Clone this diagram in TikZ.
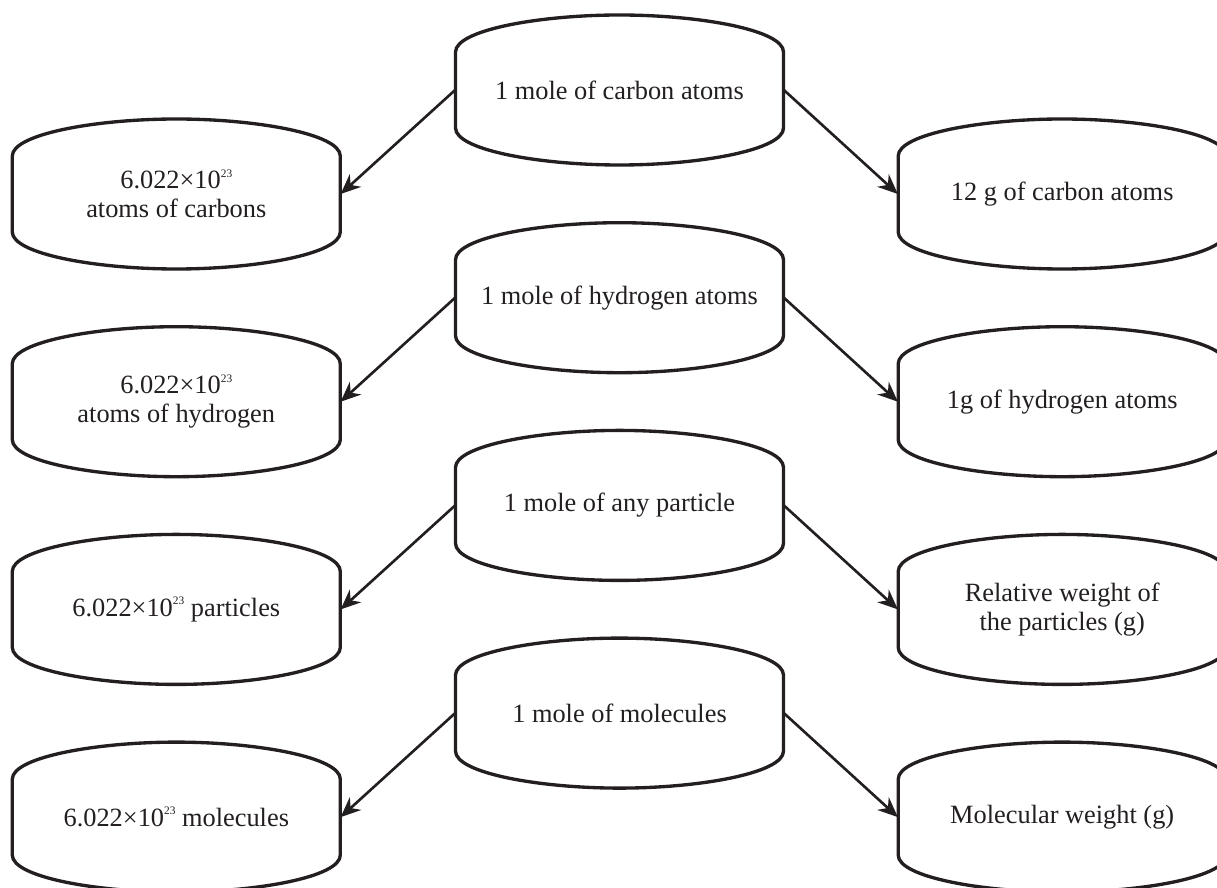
\documentclass[tikz,border=0pt]{standalone}
\usepackage{fontspec}
\setmainfont{Liberation Serif}
\usetikzlibrary{arrows.meta,positioning}
\usepackage{xcolor}
\definecolor{inkdark}{RGB}{35,31,32}

\newcommand{\avogadro}{6.022×10\raisebox{0.95ex}{\fontsize{6.5}{6.5}\selectfont 23}}

\begin{document}
\begin{tikzpicture}[node distance=1.14cm]
\tikzstyle{blob} = [minimum width=6.56cm, minimum height=3cm, align=center, text=inkdark, font=\fontsize{15}{16.5}\selectfont];
\tikzstyle{outline} = [draw=inkdark, line width=1.9pt];
\tikzstyle{link} = [draw=inkdark, line width=1.5pt, -{Stealth[length=0.4cm, width=0.34cm]}];

\useasboundingbox (0,0) rectangle (24.34,-17.76);
\clip (0,0) rectangle (24.34,-17.76);

% middle column
\node (carbon) [blob] at (12.39,-1.80) {1 mole of carbon atoms};
\node (hydrogen) [blob, below=of carbon] {1 mole of hydrogen atoms};
\node (particle) [blob, below=of hydrogen] {1 mole of any particle};
\node (molecule) [blob, below=of particle] {1 mole of molecules};

% number of particles
\node (ncarbon) [blob, left=2.29cm of carbon, yshift=-2.08cm] {\avogadro\\atoms of carbons};
\node (nhydrogen) [blob, left=2.29cm of hydrogen, yshift=-2.08cm] {\avogadro\\atoms of hydrogen};
\node (nparticle) [blob, left=2.29cm of particle, yshift=-2.08cm] {\avogadro{} particles};
\node (nmolecule) [blob, left=2.29cm of molecule, yshift=-2.08cm] {\avogadro{} molecules};

% mass
\node (gcarbon) [blob, right=2.28cm of carbon, yshift=-2.08cm] {12 g of carbon atoms};
\node (ghydrogen) [blob, right=2.28cm of hydrogen, yshift=-2.08cm] {1g of hydrogen atoms};
\node (gparticle) [blob, right=2.28cm of particle, yshift=-2.08cm] {Relative weight of\\the particles (g)};
\node (gmolecule) [blob, right=2.28cm of molecule, yshift=-2.08cm] {Molecular weight (g)};

% outlines
\foreach \n in {carbon,hydrogen,particle,molecule,ncarbon,nhydrogen,nparticle,nmolecule,gcarbon,ghydrogen,gparticle,gmolecule}
  \draw[outline, shift={(\n.center)}] (-3.28,0.76) -- (-3.28,-0.76)
    .. controls (-3.28,-1.2) and (-1.6,-1.5) .. (0,-1.5)
    .. controls (1.6,-1.5) and (3.28,-1.2) .. (3.28,-0.76) -- (3.28,0.76)
    .. controls (3.28,1.2) and (1.6,1.5) .. (0,1.5)
    .. controls (-1.6,1.5) and (-3.28,1.2) .. cycle;

% arrows
\foreach \src/\lft/\rgt in {carbon/ncarbon/gcarbon, hydrogen/nhydrogen/ghydrogen, particle/nparticle/gparticle, molecule/nmolecule/gmolecule} {
  \draw[link] (\src.west) -- (\lft.east);
  \draw[link] (\src.east) -- (\rgt.west);
}
\end{tikzpicture}
\end{document}
